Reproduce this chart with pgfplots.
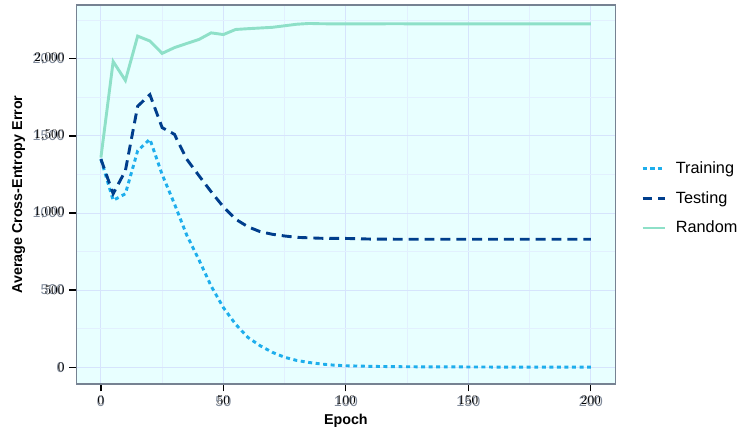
\documentclass[border=0pt]{standalone}
\usepackage{fontspec}
\setmainfont{Liberation Sans}
\usepackage{pgfplots}
\pgfplotsset{compat=1.18}

\definecolor{bgcyan}{RGB}{232,255,255}
\definecolor{gridmaj}{RGB}{214,228,252}
\definecolor{gridmin}{RGB}{226,240,254}
\definecolor{axframe}{RGB}{118,130,146}
\definecolor{ticklab}{RGB}{128,138,154}
\definecolor{train}{RGB}{30,174,236}
\definecolor{test}{RGB}{0,62,140}
\definecolor{rand}{RGB}{142,224,200}

\pgfplotsset{
    frameaxis/.style={
        at={(0,0)}, anchor=south west,
        scale only axis,
        width=407.25pt, height=286.5pt,
        xmin=-10, xmax=210,
        ymin=-110, ymax=2350,
        xtick={0,50,100,150,200},
        ytick={0,500,1000,1500,2000},
        axis line style={axframe, line width=1.2pt},
    },
}

\begin{document}
\begin{tikzpicture}
\begin{axis}[
    frameaxis,
    axis background/.style={fill=bgcyan},
    minor xtick={25,75,125,175},
    minor ytick={250,750,1250,1750,2250},
    grid=both,
    major grid style={gridmaj, line width=0.7pt},
    minor grid style={gridmin, line width=0.5pt},
    major tick length=0pt,
    minor tick length=0pt,
    tick label style={font=\fontsize{10.8}{12}\selectfont, text=ticklab},
    xticklabel style={yshift=-5.5pt},
    yticklabel style={xshift=-5.5pt},
    /pgf/number format/assume math mode=true,
    /pgf/number format/1000 sep={},
    xlabel={\textbf{Epoch}},
    ylabel={\textbf{Average Cross-Entropy Error}},
    label style={font=\fontsize{10.8}{12}\selectfont},
    xlabel style={at={(axis description cs:0.5,-0.097)}, anchor=center},
    ylabel style={at={(axis description cs:-0.107,0.5)}, anchor=center},
    legend style={draw=none, fill=none, at={(axis description cs:1.04,0.49)},
        anchor=west, font=\fontsize{12.3}{14}\selectfont, row sep=8pt,
        column sep=5pt},
    legend cell align=left,
]
\addplot[train, line width=2.2pt, dash pattern=on 3pt off 2.7pt] coordinates {
(0,1350) (5,1082) (10,1125) (15,1404) (20,1479) (25,1250) (30,1060)
(35,858) (40,697) (45,526) (50,386) (55,278) (60,193) (65,139) (70,96)
(75,64) (80,43) (85,30) (90,20) (95,13) (100,9) (110,5) (120,3)
(130,2) (150,1) (170,0) (200,0)
};
\addlegendentry{Training}
\addplot[test, line width=2.2pt, dash pattern=on 7.5pt off 4.5pt] coordinates {
(0,1350) (5,1125) (10,1275) (15,1693) (20,1768) (25,1554) (30,1511)
(35,1350) (40,1243) (45,1138) (50,1040) (55,960) (60,911) (65,879)
(70,862) (75,851) (80,842) (90,836) (100,835) (110,831) (120,830)
(150,830) (200,830)
};
\addlegendentry{Testing}
\addplot[rand, line width=2.2pt] coordinates {
(0,1360) (5,1983) (10,1860) (15,2148) (20,2116) (25,2036) (30,2073)
(35,2100) (40,2126) (45,2169) (50,2158) (55,2191) (60,2196) (70,2205)
(80,2225) (85,2230) (90,2228) (100,2227) (120,2228) (140,2227)
(160,2227) (180,2227) (200,2227)
};
\addlegendentry{Random}
\end{axis}
% second axis on top, no grid: the frame again and the outside tick marks
\begin{axis}[
    frameaxis,
    xticklabel={}, yticklabel={},
    tick align=outside,
    tick pos=left,
    major tick length=5.5pt,
    major tick style={draw=black, line width=0.9pt},
]
\end{axis}
% room round the picture as in the reference
\path (-57.75pt,-34.5pt) (500.25pt,290.25pt);
\end{tikzpicture}
\end{document}
